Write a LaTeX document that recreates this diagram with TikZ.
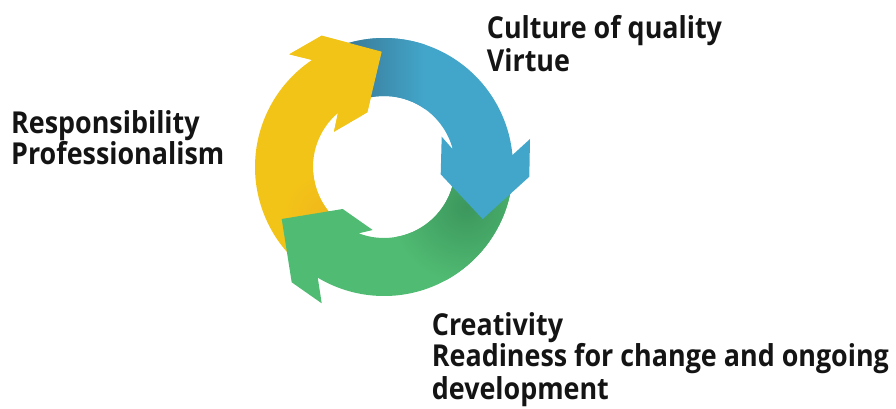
\documentclass[tikz,border=0pt]{standalone}
\usepackage{fontspec}
\setmainfont{Open Sans}[FakeStretch=0.89]
\usetikzlibrary{calc}
\definecolor{cyel}{HTML}{F3C418}
\definecolor{cyeldark}{HTML}{F0B91B}
\definecolor{cblue}{HTML}{42A6CA}
\definecolor{cbluedark}{HTML}{3A7896}
\definecolor{cgreen}{HTML}{50BB72}
\definecolor{cgreendark}{HTML}{3C975D}
\begin{document}
\begin{tikzpicture}[x=1pt,y=1pt,
  lbl/.style={anchor=base west, inner sep=0pt, font=\fontsize{30.2}{33}\selectfont\bfseries, text=black!92}]
\useasboundingbox (0,0) rectangle (896,409);
\coordinate (C) at (384,242);
% yellow arrow
\begin{scope}
  \clip ($(C)+(228:129)$) arc[start angle=228,end angle=123.9,radius=129]
    -- (289.3,354.7) -- (321.7,373.3) -- (381.7,357.3) -- (367.3,296.7)
    -- (334,277.3) -- ($(C)+(130.4:71)$) arc[start angle=130.4,end angle=228,radius=71] -- cycle;
  \fill[cyel] (0,0) rectangle (896,409);
  \shade[inner color=cyeldark, outer color=cyel] (322,197) circle (40);
\end{scope}
% green arrow
\begin{scope}
  \clip ($(C)+(-5:129)$) arc[start angle=-5,end angle=-120.9,radius=129]
    -- (321.7,105.7) -- (291.7,126.7) -- (281.7,190) -- (342.7,200)
    -- (372.7,179) -- ($(C)+(-110.9:71)$) arc[start angle=-110.9,end angle=-5,radius=71] -- cycle;
  \fill[cgreen] (0,0) rectangle (896,409);
  \shade[inner color=cgreendark, outer color=cgreen] (466,202) circle (76);
\end{scope}
% blue arrow
\begin{scope}
  \clip ($(C)+(110:129)$) arc[start angle=110,end angle=5.3,radius=129]
    -- (530,270) -- (529.3,232.3) -- (482.7,190) -- (440.7,234.7)
    -- (441.7,272.3) -- ($(C)+(14.4:71)$) arc[start angle=14.4,end angle=110,radius=71] -- cycle;
  \fill[cblue] (0,0) rectangle (896,409);
  \shade[left color=cbluedark, right color=cblue] (345,280) rectangle (425,409);
\end{scope}
% yellow head on top
\fill[cyel] ($(C)+(123.9:129)$) -- (289.3,354.7) -- (321.7,373.3) -- (381.7,357.3)
  -- (367.3,296.7) -- (334,277.3) -- ($(C)+(130.4:71)$) -- cycle;
% labels
\node[lbl] (q1) at (486.7,370.7) {Culture of quality};
\node[lbl] (q2) at (486.7,337.3) {Virtue};
\node[lbl] (r1) at (11,275.7) {Responsibility};
\node[lbl] (r2) at (11,244) {Professionalism};
\node[lbl] (c1) at (431.7,73) {Creativity};
\node[lbl] (c2) at (431.7,42.5) {Readiness for change and ongoing};
\node[lbl] (c3) at (431.7,9.7) {development};
\end{tikzpicture}
\end{document}
